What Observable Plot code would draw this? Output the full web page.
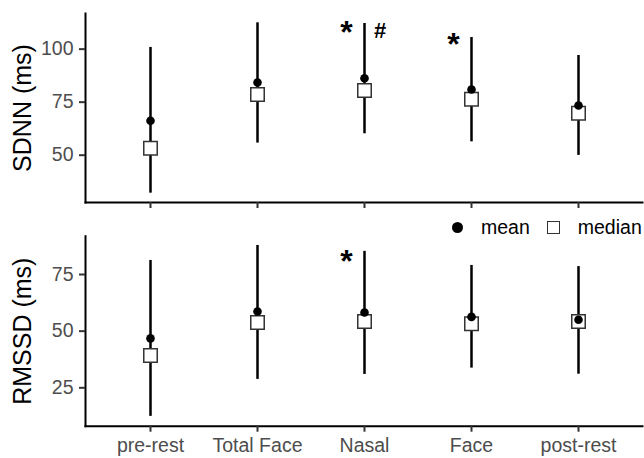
<!DOCTYPE html>
<html>
<head>
<meta charset="utf-8">
<script src="https://cdn.jsdelivr.net/npm/d3@7"></script>
<script src="https://cdn.jsdelivr.net/npm/@observablehq/plot@0.6"></script>
<style>
  html, body { margin: 0; padding: 0; background: #fff; }
  #chart { position: relative; width: 644px; height: 458px; font-family: "Liberation Sans", Arial, sans-serif; }
  #chart svg { position: absolute; left: 0; }
  #legend { position: absolute; left: 450px; top: 216px; height: 22px; display: flex; align-items: center; font-size: 19.5px; color: #000; }
  #legend .k { display: inline-block; box-sizing: border-box; }
</style>
</head>
<body>
<div id="chart"></div>
<script>
const categories = ["pre-rest", "Total Face", "Nasal", "Face", "post-rest"];

// SDNN (ms)
const sdnnMean   = [66.2, 84.3, 86.3, 81.0, 73.4];
const sdnnMedian = [53.3, 78.6, 80.5, 76.4, 69.8];
const sdnnLow    = [32.1, 55.7, 60.1, 56.3, 49.9];
const sdnnHigh   = [100.8, 112.4, 112.1, 105.5, 97.0];

// RMSSD (ms)
const rmssdMean   = [46.8, 58.7, 58.2, 56.3, 55.0];
const rmssdMedian = [39.3, 53.8, 54.3, 53.3, 54.3];
const rmssdLow    = [12.4, 28.7, 30.9, 33.7, 31.0];
const rmssdHigh   = [81.2, 87.8, 85.2, 79.0, 78.5];

const sdnnTicks = [50, 75, 100];
const rmssdTicks = [25, 50, 75];

// significance annotations
const sdnnStars  = [{cat: "Nasal", v: 109.3, label: "*"}, {cat: "Face", v: 103.8, label: "*"}];
const sdnnHash   = [{cat: "Nasal", v: 108.5, label: "#"}];
const rmssdStars = [{cat: "Nasal", v: 82.2, label: "*"}];
const rmssdHash  = [];

function rows(mean, median, low, high) {
  return categories.map((c, i) => ({cat: c, mean: mean[i], median: median[i], lo: low[i], hi: high[i]}));
}

function panel({data, domain, ticks, title, stars, hash, height, marginTop, marginBottom, showLabels}) {
  return Plot.plot({
    width: 644,
    height,
    marginLeft: 85,
    marginRight: 2,
    marginTop,
    marginBottom,
    style: {fontFamily: '"Liberation Sans", Arial, sans-serif', background: "transparent", overflow: "visible"},
    x: {type: "point", domain: categories, padding: 0.6},
    y: {domain},
    marks: [
      Plot.frame({anchor: "left", stroke: "#000", strokeWidth: 2}),
      Plot.frame({anchor: "bottom", stroke: "#000", strokeWidth: 2}),
      Plot.axisY({ticks, tickSize: 6, tickPadding: 6, stroke: "#333", strokeWidth: 2, fill: "#4d4d4d", fontSize: 19.5, label: null}),
      Plot.axisX({tickSize: 6, tickPadding: 6, stroke: "#333", strokeWidth: 2, fill: "#4d4d4d", fontSize: 19.5, label: null,
                  tickFormat: showLabels ? (d) => d : () => ""}),
      Plot.text([title], {frameAnchor: "left", textAnchor: "middle", lineAnchor: "middle", rotate: -90, dx: -62.5, fontSize: 25, fill: "#000"}),
      Plot.ruleX(data, {x: "cat", y1: "lo", y2: "hi", stroke: "#000", strokeWidth: 2.5}),
      Plot.dot(data, {x: "cat", y: "median", symbol: "square", r: 7.6, fill: "#fff", stroke: "#333", strokeWidth: 1.5}),
      Plot.dot(data, {x: "cat", y: "mean", r: 4.3, fill: "#000", stroke: "none"}),
      Plot.text(stars, {x: "cat", y: "v", text: "label", dx: -18, dy: 3.5, fontSize: 32, fontWeight: "bold", fill: "#000"}),
      Plot.text(hash, {x: "cat", y: "v", text: "label", dx: 15.5, fontSize: 22, fontWeight: "bold", fill: "#000"})
    ]
  });
}

const chartEl = document.getElementById("chart");

const topPanel = panel({
  data: rows(sdnnMean, sdnnMedian, sdnnLow, sdnnHigh),
  domain: [27.7, 116.8], ticks: sdnnTicks, title: "SDNN (ms)",
  stars: sdnnStars, hash: sdnnHash,
  height: 215, marginTop: 13, marginBottom: 13, showLabels: false
});
topPanel.style.top = "0px";
chartEl.appendChild(topPanel);

const bottomPanel = panel({
  data: rows(rmssdMean, rmssdMedian, rmssdLow, rmssdHigh),
  domain: [8.06, 91.9], ticks: rmssdTicks, title: "RMSSD (ms)",
  stars: rmssdStars, hash: rmssdHash,
  height: 243, marginTop: 20.7, marginBottom: 32.3, showLabels: true
});
bottomPanel.style.top = "215px";
chartEl.appendChild(bottomPanel);

// legend
const legend = document.createElement("div");
legend.id = "legend";
legend.innerHTML =
  '<span class="k" style="width:11px;height:11px;border-radius:50%;background:#000;margin-left:2px;"></span>' +
  '<span style="margin-left:18px;">mean</span>' +
  '<span class="k" style="width:13px;height:13px;border:1.5px solid #333;background:#fff;margin-left:17px;"></span>' +
  '<span style="margin-left:18px;">median</span>';
chartEl.appendChild(legend);
</script>
</body>
</html>
